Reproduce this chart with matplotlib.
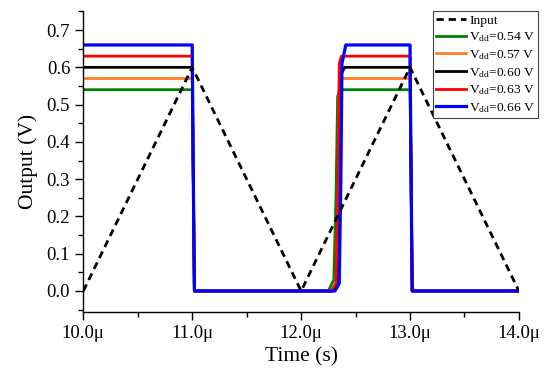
import matplotlib
matplotlib.use("Agg")
import matplotlib.pyplot as plt
from matplotlib.ticker import MultipleLocator, FuncFormatter

plt.rcParams['font.family'] = ['Liberation Serif', 'DejaVu Serif']
plt.rcParams['mathtext.fontset'] = 'custom'
plt.rcParams['mathtext.rm'] = 'Liberation Serif'
plt.rcParams['mathtext.it'] = 'Liberation Serif:italic'

# Input triangle wave (time in µs, volts)
input_t = [10.0, 11.0, 12.0, 13.0, 14.0]
input_v = [0.0, 0.6, 0.0, 0.6, 0.0]

vdd_levels = [0.54, 0.57, 0.60, 0.63, 0.66]
colors = ['#008000', '#ff7f27', '#000000', '#ff0000', '#0000ff']
labels = ['V$_{\\mathrm{dd}}$=0.54 V', 'V$_{\\mathrm{dd}}$=0.57 V', 'V$_{\\mathrm{dd}}$=0.60 V',
          'V$_{\\mathrm{dd}}$=0.63 V', 'V$_{\\mathrm{dd}}$=0.66 V']

# Output breakpoints per series
out_t = {
    0.54: [10.0, 11.00, 11.01, 11.02, 12.25, 12.30, 12.32, 12.335, 12.35, 13.00, 13.01, 13.02, 14.0],
    0.57: [10.0, 11.00, 11.01, 11.02, 12.28, 12.32, 12.34, 12.35, 12.37, 13.00, 13.01, 13.02, 14.0],
    0.60: [10.0, 11.00, 11.01, 11.02, 12.29, 12.33, 12.35, 12.365, 12.40, 13.00, 13.01, 13.02, 14.0],
    0.63: [10.0, 11.00, 11.01, 11.02, 12.28, 12.32, 12.34, 12.35, 12.37, 13.00, 13.01, 13.02, 14.0],
    0.66: [10.0, 11.00, 11.01, 11.02, 12.31, 12.35, 12.365, 12.375, 12.41, 13.00, 13.01, 13.02, 14.0],
}
out_v = {
    0.54: [0.54, 0.54, 0.30, 0.0, 0.0, 0.03, 0.25, 0.52, 0.54, 0.54, 0.30, 0.0, 0.0],
    0.57: [0.57, 0.57, 0.30, 0.0, 0.0, 0.02, 0.25, 0.55, 0.57, 0.57, 0.30, 0.0, 0.0],
    0.60: [0.60, 0.60, 0.30, 0.0, 0.0, 0.02, 0.25, 0.58, 0.60, 0.60, 0.30, 0.0, 0.0],
    0.63: [0.63, 0.63, 0.30, 0.0, 0.0, 0.02, 0.30, 0.61, 0.63, 0.63, 0.30, 0.0, 0.0],
    0.66: [0.66, 0.66, 0.30, 0.0, 0.0, 0.02, 0.30, 0.61, 0.66, 0.66, 0.30, 0.0, 0.0],
}
widths = [2.0, 2.0, 2.0, 2.0, 2.3]

fig = plt.figure(figsize=(5.5, 3.81), dpi=100)
ax = fig.add_axes([0.1515, 0.182, 0.792, 0.788])

ax.plot(input_t, input_v, ls=(0, (2.6, 1.8)), color='black', lw=2.0, label='Input', zorder=5)
for v, c, lab, w in zip(vdd_levels, colors, labels, widths):
    ax.plot(out_t[v], out_v[v], color=c, lw=w, label=lab)

ax.set_xlim(10.0, 14.0)
ax.set_ylim(-0.0555, 0.75)
ax.xaxis.set_major_locator(MultipleLocator(1.0))
ax.xaxis.set_minor_locator(MultipleLocator(0.5))
ax.yaxis.set_major_locator(MultipleLocator(0.1))
ax.yaxis.set_minor_locator(MultipleLocator(0.05))
ax.xaxis.set_major_formatter(FuncFormatter(lambda x, p: f"{x:.1f}\u03bc"))
ax.yaxis.set_major_formatter(FuncFormatter(lambda y, p: f"{y:.1f}"))
ax.tick_params(which='major', direction='out', length=6, width=1.0, labelsize=13.5)
ax.tick_params(which='minor', direction='out', length=3.5, width=1.0)
for s in ['top', 'right']:
    ax.spines[s].set_visible(False)
for s in ['left', 'bottom']:
    ax.spines[s].set_linewidth(1.0)

ax.set_xlabel('Time (s)', fontsize=15.5, labelpad=4)
ax.set_ylabel('Output (V)', fontsize=15.5, labelpad=6)

leg = ax.legend(loc='upper right', bbox_to_anchor=(1.044, 1.0), fontsize=9.7,
                frameon=True, fancybox=False, edgecolor='#444444', framealpha=1,
                handlelength=2.2, handletextpad=0.25, borderpad=0.22, labelspacing=0.28,
                borderaxespad=0)
leg.get_frame().set_linewidth(0.8)

fig.savefig('out.png', dpi=100)
